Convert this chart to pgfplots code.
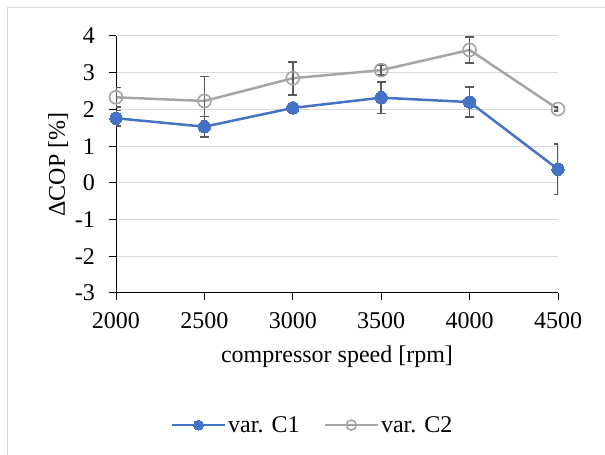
\documentclass[border=0pt]{standalone}
\usepackage{fontspec}
\setmainfont{Liberation Serif}
\usepackage{pgfplots}
\pgfplotsset{compat=1.18}
\definecolor{cblue}{HTML}{4472C4}
\definecolor{cgray}{HTML}{A5A5A5}
\definecolor{cgrid}{HTML}{D9D9D9}
\definecolor{cerr}{HTML}{595959}
\begin{document}
\begin{tikzpicture}[x=1pt,y=1pt]
\path[use as bounding box] (0,0) rectangle (605,455);
\draw[cgrid, line width=1pt] (7.5,0) -- (7.5,447.5) -- (605,447.5);
\begin{axis}[
  at={(116pt,162pt)}, anchor=south west,
  scale only axis, width=442pt, height=257pt,
  xmin=2000, xmax=4500, ymin=-3, ymax=4,
  xtick={2000,2500,3000,3500,4000,4500},
  ytick={-3,-2,-1,0,1,2,3,4},
  axis lines*=left,
  axis line style={black, line width=1pt},
  tick align=outside, major tick length=7pt,
  tick style={black, line width=1pt},
  ymajorgrids, grid style={cgrid, line width=1pt},
  /pgf/number format/assume math mode=true,
  /pgf/number format/1000 sep={},
  tick label style={font=\fontsize{24}{28}\selectfont, inner sep=0pt},
  yticklabel style={anchor=east},
  xticklabel style={anchor=base},
  yticklabel shift=14pt,
  xticklabel shift=29pt,
  every axis x label/.style={at={(axis description cs:0.5,0)}, anchor=base, yshift=-69pt, font=\fontsize{24}{28}\selectfont},
  every axis y label/.style={at={(axis description cs:0,0.5)}, xshift=-51pt, rotate=90, anchor=base, font=\fontsize{24}{28}\selectfont},
  xlabel={compressor speed [rpm]},
  ylabel={ΔCOP [\%]},
  legend style={draw=none, at={(axis description cs:0.4446,-0.514)}, anchor=center,
    legend columns=2, font=\fontsize{24}{28}\selectfont,
    /tikz/every even column/.append style={column sep=22pt}},
  legend cell align=left,
  legend image code/.code={\draw[mark repeat=2,mark phase=2,mark size=5pt] plot coordinates {(0pt,0pt)(26.5pt,0pt)(53pt,0pt)};},
  error bars/y dir=both, error bars/y explicit,
  error bars/error bar style={cerr, line width=1.7pt},
  error bars/error mark options={cerr, rotate=90, mark size=4.5pt, line width=1.7pt},
]
\addplot[cblue, line width=2.5pt, mark=*, mark size=6.2pt, mark options={fill=cblue, draw=cblue, line width=0pt}]
  coordinates {
  (2000,1.76) +- (0,0.21)
  (2500,1.53) +- (0,0.28)
  (3000,2.04) +- (0,0.03)
  (3500,2.32) +- (0,0.43)
  (4000,2.20) +- (0,0.41)
  (4500,0.37) +- (0,0.69)
  };
\addlegendentry{var. C1}
\addplot[cgray, line width=2.5pt, mark=o, mark size=6.5pt, mark options={draw=cgray, line width=1.6pt}]
  coordinates {
  (2000,2.33) +- (0,0.27)
  (2500,2.23) +- (0,0.67)
  (3000,2.85) +- (0,0.45)
  (3500,3.07) +- (0,0.14)
  (4000,3.62) +- (0,0.36)
  (4500,2.01) +- (0,0.05)
  };
\addlegendentry{var. C2}
\end{axis}
\end{tikzpicture}
\end{document}
